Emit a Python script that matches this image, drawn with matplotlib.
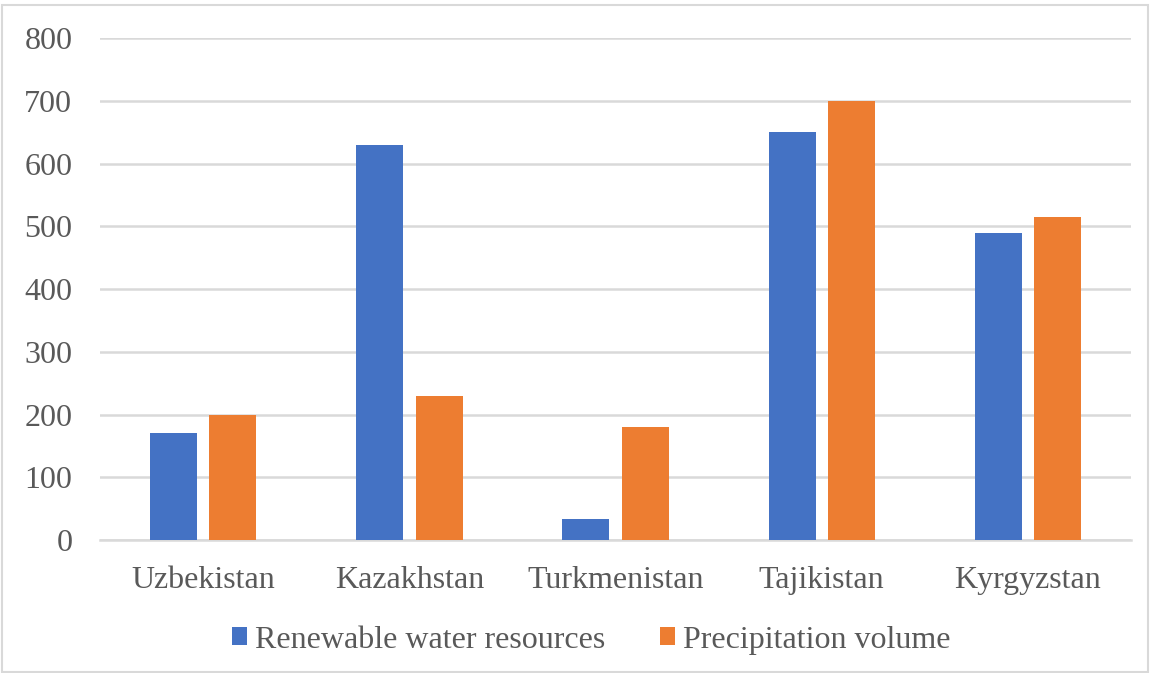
import numpy as np
import matplotlib.pyplot as plt

countries = ["Uzbekistan", "Kazakhstan", "Turkmenistan", "Tajikistan", "Kyrgyzstan"]
renewable = [170, 630, 33, 650, 490]
precipitation = [200, 230, 180, 700, 515]
series_names = ["Renewable water resources", "Precipitation volume"]
yticks = [0, 100, 200, 300, 400, 500, 600, 700, 800]

blue = "#4472C4"
orange = "#ED7D31"
text_color = "#595959"
grid_color = "#D9D9D9"

plt.rcParams['font.family'] = ['Liberation Serif', 'DejaVu Serif']

fig = plt.figure(figsize=(11.5, 6.73), dpi=100)
ax = fig.add_axes([0.087, 0.1976, 0.8965, 0.7459])

x = np.arange(len(countries))
w = 0.228
off = 0.144
ax.bar(x - off, renewable, w, color=blue, label=series_names[0], zorder=3)
ax.bar(x + off, precipitation, w, color=orange, label=series_names[1], zorder=3)

ax.set_xlim(-0.5, len(countries) - 0.5)
ax.set_ylim(0, 800)
ax.set_yticks(yticks)
ax.set_xticks(x)
ax.set_xticklabels(countries)
ax.tick_params(axis='both', length=0, labelsize=23, colors=text_color)
ax.tick_params(axis='y', pad=20)
ax.tick_params(axis='x', pad=19)
ax.yaxis.grid(True, color=grid_color, linewidth=1.8, zorder=0)
for s in ['top', 'right', 'left']:
    ax.spines[s].set_visible(False)
ax.spines['bottom'].set_color(grid_color)
ax.spines['bottom'].set_linewidth(1.8)

fig.legend(loc='center', bbox_to_anchor=(0.514, 0.049), ncol=2, frameon=False,
           fontsize=23, labelcolor=text_color, handlelength=0.47, handleheight=0.47,
           handletextpad=0.25, columnspacing=1.72)

fig.patches.append(plt.Rectangle((0.0015, 0.002), 0.997, 0.99, transform=fig.transFigure,
                                 fill=False, edgecolor=grid_color, linewidth=1.5))

fig.savefig("out.png", dpi=100)
